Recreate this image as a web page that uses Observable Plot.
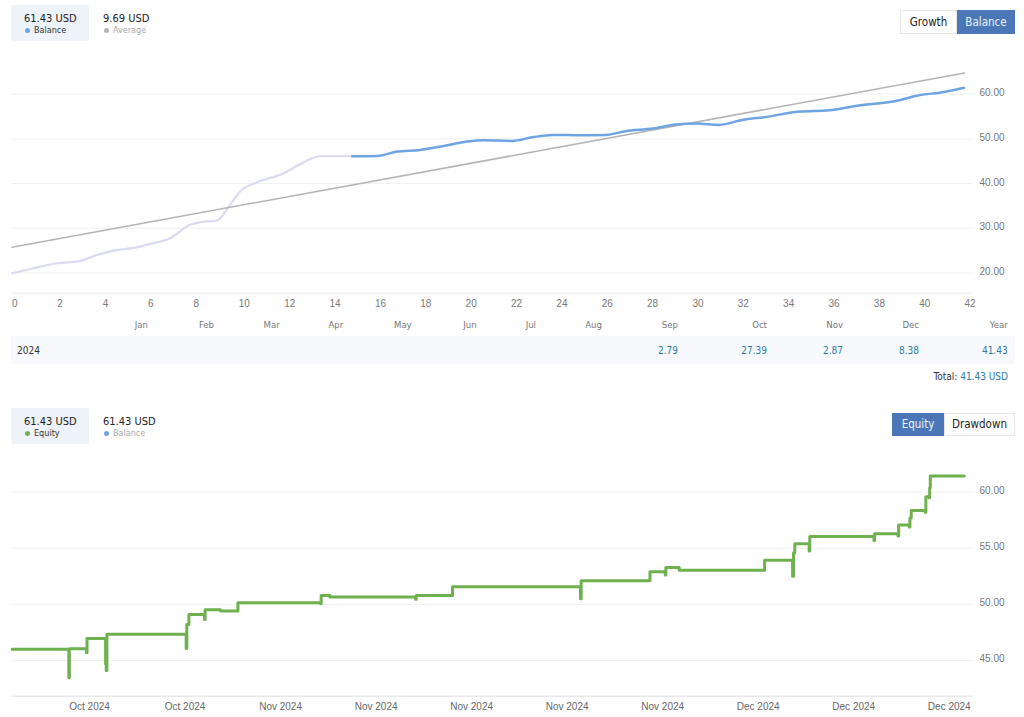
<!DOCTYPE html>
<html>
<head>
<meta charset="utf-8">
<script src="https://cdn.jsdelivr.net/npm/d3@7"></script>
<script src="https://cdn.jsdelivr.net/npm/@observablehq/plot@0.6"></script>
<style>
html,body{margin:0;padding:0;background:#fff;width:1024px;height:717px;overflow:hidden;font-family:"DejaVu Sans Condensed","DejaVu Sans",sans-serif;font-stretch:condensed;color:#222}
#page{position:relative;width:1024px;height:717px}
.abs{position:absolute}
.abs svg{display:block;overflow:visible}
.box{background:#eef3fa;border-radius:2px}
.val{font-size:11px;line-height:14px;color:#222;white-space:nowrap}
.lab{font-size:9px;line-height:12px;white-space:nowrap}
.dot{width:5px;height:5px;border-radius:50%}
.btn{box-sizing:border-box;font-size:11.5px;text-align:center;white-space:nowrap;border:1px solid #e6e6e6;background:#fff;color:#222}
.btn.on{background:#4b77b9;border-color:#4b77b9;color:#eef3fb}
#months,#table{display:grid;align-items:center;text-align:right}
#months{font-size:9.5px;color:#777}
#table{font-size:10px;color:#2c7aa6;background:#f7f9fc}
#table .yr{color:#333;text-align:left;padding-left:6px}
#total{font-size:10px;color:#333;text-align:right;white-space:nowrap}
#total span{color:#2c7aa6}
</style>
</head>
<body>
<div id="page"></div>
<script>
// ---- Balance chart data
const balanceWeeks = [0,0.96,1.99,2.95,3.76,4.49,5.37,6.11,6.99,7.87,8.31,9.05,9.49,10.07,10.81,11.99,12.72,13.6,15,16.1,16.98,18.01,19.04,20.07,20.8,22.07,22.95,23.83,25,26.18,27.06,28.24,29.27,30.15,31.18,32.2,33.24,34.71,36.03,37.2,38.97,39.99,41.03,41.98];
const balanceValues = [19.93,21.04,22.16,22.61,24.03,25,25.59,26.49,27.83,30.81,31.33,31.71,34.32,38.27,40.28,42.3,44.38,46.1,46.1,46.17,47.14,47.52,48.41,49.38,49.68,49.53,50.35,50.87,50.8,50.87,51.69,52.29,53.18,53.41,53.11,54.23,54.9,56.09,56.39,57.36,58.48,59.75,60.42,61.43];
const highlightFrom = 15;
const averageWeeks = [0,42];
const averageValues = [25.74,64.74];
const balanceYTicks = [20,30,40,50,60];
const balanceXTicks = d3.range(0,43,2);

// ---- Monthly table
const monthLabels = ["Jan","Feb","Mar","Apr","May","Jun","Jul","Aug","Sep","Oct","Nov","Dec","Year"];
const yearLabel = "2024";
const monthValues = ["","","","","","","","","2.79","27.39","2.87","8.38","41.43"];
const totalLabel = "Total:";
const totalValue = "41.43 USD";

// ---- Equity chart data (days after 25 Oct 2024)
const equityDays = [-4.86,-1.3,-1.27,-0.19,-0.16,1.01,1.05,1.09,6.07,6.11,6.24,7.22,7.26,8.23,9.32,14.51,14.55,15.1,20.48,20.52,22.8,30.84,30.88,35.2,36.16,36.2,37.04,42.4,44.16,44.22,44.3,45.2,45.24,49.27,49.31,50.78,50.82,51.49,51.53,51.61,52.49,52.53,52.74,52.77,52.81,54.94];
const equityValues = [46,43.47,46.05,45.7,46.97,44.7,44.12,47.33,46.08,48.2,49.11,48.66,49.53,49.41,50.15,50.05,50.8,50.65,50.45,50.8,51.57,50.5,52.1,52.9,52.63,53.28,53.05,53.93,52.5,54.6,55.4,54.76,56.05,55.7,56.3,56.1,57.07,56.9,57.7,58.37,58.2,59.6,59.5,60.4,61.43,61.43];
const equityTickDays = [0,6,12,18,24,30,36,42,48,54];
const equityTickLabels = ["Oct 2024","Oct 2024","Nov 2024","Nov 2024","Nov 2024","Nov 2024","Nov 2024","Dec 2024","Dec 2024","Dec 2024"];
const equityYTicks = [45,50,55,60];

const balanceRows = balanceWeeks.map((x,i)=>({x,y:balanceValues[i]}));
const averageRows = averageWeeks.map((x,i)=>({x,y:averageValues[i]}));
const equityRows = equityDays.map((x,i)=>({x,y:equityValues[i]}));

const axisFont = {fontFamily:"'Liberation Sans',sans-serif",fontSize:"10px",fontStretch:"normal"};
const page = document.getElementById("page");

function place(el,l,t,w,h){
  el.classList.add("abs");
  el.style.left=l+"px"; el.style.top=t+"px";
  if(w!=null) el.style.width=w+"px";
  if(h!=null) el.style.height=h+"px";
  page.appendChild(el); return el;
}
function div(cls,text){const d=document.createElement("div"); if(cls) d.className=cls; if(text!=null) d.textContent=text; return d;}

// ---- Top plot
const top1 = Plot.plot({
  width:1024, height:322,
  marginLeft:11.5, marginRight:52, marginTop:60, marginBottom:29.3,
  style:{background:"transparent",...axisFont},
  x:{domain:[0,42.35],label:null},
  y:{domain:[15.46,67.52],label:null},
  marks:[
    Plot.ruleY(balanceYTicks,{stroke:"#f1f1f1",strokeWidth:1}),
    Plot.ruleY([15.46],{stroke:"#f3f3f3",strokeWidth:2}),
    Plot.line(balanceRows.filter(d=>d.x<=highlightFrom),{x:"x",y:"y",curve:"monotone-x",stroke:"#dadaf2",strokeWidth:2.2}),
    Plot.line(averageRows,{x:"x",y:"y",stroke:"#b4b4b4",strokeWidth:1.5}),
    Plot.line(balanceRows.filter(d=>d.x>=highlightFrom),{x:"x",y:"y",curve:"monotone-x",stroke:"#6ea4e2",strokeWidth:2.5}),
    Plot.axisX({ticks:balanceXTicks,tickSize:0,tickPadding:7,textAnchor:"start",color:"#777",label:null,tickFormat:d=>String(d)}),
    Plot.axisY({anchor:"right",ticks:balanceYTicks,tickSize:0,tickPadding:7,dy:-1,color:"#777",label:null,tickFormat:d=>d.toFixed(2)})
  ]
});
place(top1,0,0);

// ---- Bottom plot
const top2 = Plot.plot({
  width:1024, height:267,
  marginLeft:11.5, marginRight:52, marginTop:20, marginBottom:21.3,
  style:{background:"transparent",...axisFont},
  x:{domain:[-4.87,55.46],label:null},
  y:{domain:[41.82,61.93],label:null},
  marks:[
    Plot.ruleY(equityYTicks,{stroke:"#f1f1f1",strokeWidth:1}),
    Plot.ruleY([41.82],{stroke:"#e8e8e8",strokeWidth:1.5}),
    Plot.line(equityRows,{x:"x",y:"y",curve:"step-after",stroke:"#6fb04f",strokeWidth:3}),
    Plot.axisX({ticks:equityTickDays,tickSize:0,tickPadding:7,color:"#666",label:null,tickFormat:d=>equityTickLabels[equityTickDays.indexOf(d)]}),
    Plot.axisY({anchor:"right",ticks:equityYTicks,tickSize:0,tickPadding:7,dy:-1.5,color:"#777",label:null,tickFormat:d=>d.toFixed(2)})
  ]
});
place(top2,0,450);

// ---- Legends
function legend(t,boxed,value,label,dotColor,textColor,x){
  if(boxed) place(div("box"),11,t,78,36);
  place(div("val",value),x,t+6.5);
  place(div("dot"),x+0.5,t+22.5).style.background=dotColor;
  const l=place(div("lab",label),x+10,t+19); l.style.color=textColor;
}
legend(5,true,"61.43 USD","Balance","#6ea4e2","#333",24);
legend(5,false,"9.69 USD","Average","#b4b4b4","#aaa",103);
legend(408,true,"61.43 USD","Equity","#6fb04f","#333",24);
legend(408,false,"61.43 USD","Balance","#6ea4e2","#aaa",103);

// ---- Buttons
function button(text,on,l,t,w,h){
  const b=place(div("btn"+(on?" on":""),text),l,t,w,h);
  b.style.lineHeight=(h-2)+"px";
}
button("Growth",false,900,10,57,24);
button("Balance",true,957,10,58,24);
button("Equity",true,892,413,52,23);
button("Drawdown",false,944,413,71,23);

// ---- Month header and table
const colWidths = "60px 77px 66px 65.7px 63.6px 68.4px 65px 59.3px 66px 76px 89px 76px 76px 88.7px";
const months = place(div(),11,317.5,996.7,14); months.id="months";
months.style.gridTemplateColumns=colWidths;
months.appendChild(div());
monthLabels.forEach(m=>months.appendChild(div("",m)));

const table = place(div(),11,336,1004,28); table.id="table";
table.style.gridTemplateColumns=colWidths+" 7.3px";
table.appendChild(div("yr",yearLabel));
monthValues.forEach(v=>table.appendChild(div("",v)));
table.appendChild(div());

const total = place(div(),800,371,208,16); total.id="total";
total.textContent=totalLabel+" ";
const ts=document.createElement("span"); ts.textContent=totalValue; total.appendChild(ts);
</script>
</body>
</html>
